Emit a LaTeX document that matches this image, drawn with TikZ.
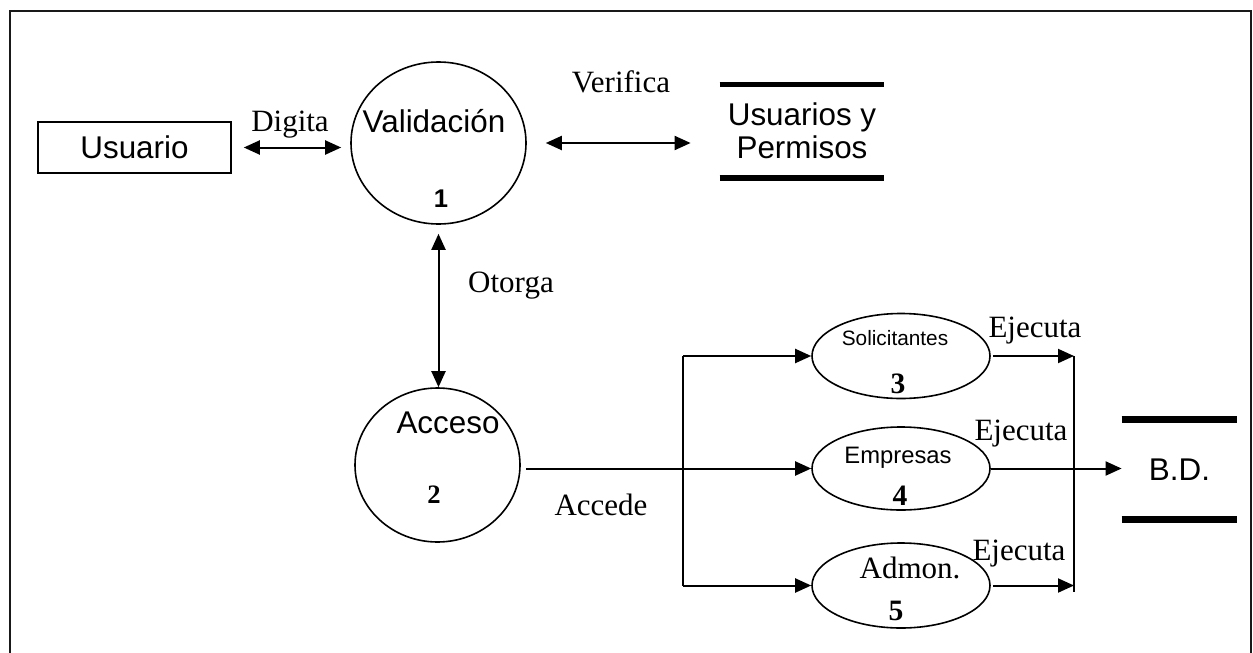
\documentclass[tikz,border=0pt]{standalone}
\usepackage{fontspec}
\setmainfont{Liberation Serif}
\setsansfont{Liberation Sans}
\usetikzlibrary{shapes.geometric,arrows.meta}
\colorlet{marco}{black!90}

\begin{document}
\begin{tikzpicture}[
            x=0.5pt, y=-0.5pt,
            every node/.append style={black, inner sep=0pt},
            proc/.style={draw, ellipse, line width=0.8pt},
            linea/.style={line width=1pt},
            flujo/.style={linea, -{Triangle[length=8pt,width=7pt]}},
            dflujo/.style={linea, {Triangle[length=8pt,width=7pt]}-{Triangle[length=8pt,width=7pt]}},
            almacen/.style={line width=2.6pt},
            etiq/.style={font=\rmfamily\fontsize{15.5}{18}\selectfont, anchor=base},
            txt/.style={font=\sffamily\fontsize{15.7}{16.5}\selectfont},
            numr/.style={font=\rmfamily\bfseries\fontsize{14.8}{16}\selectfont, anchor=base}
        ]
            \useasboundingbox (0,0) rectangle (1253,653);
            \clip (0,0) rectangle (1253,653);
            \draw [marco,line width=1pt] (9.5,10.5) rectangle (1250.5,700);

            \node [draw,line width=0.8pt,minimum width=96.5pt,minimum height=25.5pt,txt] (usuario) at (134.5,147.5) {Usuario};

            \node [proc,minimum width=87.5pt,minimum height=81pt] (valid) at (438.5,143) {};
            \node [txt,anchor=base] (t-valid) at (434,132) {Validación};
            \node [font=\sffamily\bfseries\fontsize{12.8}{14}\selectfont,anchor=base] (n1) at (441,207) {1};

            \node [txt,align=center,minimum width=82pt,minimum height=46.5pt] (usrperm) at (802,131) {Usuarios y\\Permisos};
            \draw [almacen] (usrperm.north west) -- (usrperm.north east);
            \draw [almacen] (usrperm.south west) -- (usrperm.south east);

            \node [proc,minimum width=82.5pt,minimum height=77pt] (acceso) at (437.5,465) {};
            \node [txt,anchor=base] (t-acceso) at (448,433) {Acceso};
            \node [numr,font=\rmfamily\bfseries\fontsize{13.3}{15}\selectfont] (n2) at (434,503) {2};

            \node [proc,minimum width=89pt,minimum height=42.5pt] (solic) at (901,356) {};
            \node [font=\sffamily\fontsize{10.4}{12}\selectfont,anchor=base] (t-solic) at (895,345) {Solicitantes};
            \node [numr] (n3) at (898,393) {3};

            \node [proc,minimum width=89pt,minimum height=41.5pt] (empre) at (901,468.5) {};
            \node [font=\sffamily\fontsize{11.9}{14}\selectfont,anchor=base] (t-empre) at (898,463) {Empresas};
            \node [numr] (n4) at (900,505) {4};

            \node [proc,minimum width=89pt,minimum height=42.5pt] (admon) at (901,585.5) {};
            \node [etiq] (t-admon) at (910,578) {Admon.};
            \node [numr] (n5) at (896,620) {5};

            \node [txt,minimum width=57.5pt,minimum height=49.5pt] (bd) at (1179.5,469.5) {B.D.};
            \draw [almacen,line width=3.4pt] (bd.north west) -- (bd.north east);
            \draw [almacen,line width=3.4pt] (bd.south west) -- (bd.south east);

            \node [etiq] (l-digita) at (290,131) {Digita};
            \node [etiq] (l-verifica) at (621,92) {Verifica};
            \node [etiq] (l-otorga) at (511,292) {Otorga};
            \node [etiq] (l-accede) at (601,515) {Accede};
            \node [etiq] (l-ejec1) at (1035,337) {Ejecuta};
            \node [etiq] (l-ejec2) at (1021,440) {Ejecuta};
            \node [etiq] (l-ejec3) at (1019,560) {Ejecuta};

            \coordinate (fork) at (683,468.5);
            \coordinate (colector) at (1074,469);

            \draw [dflujo,shorten <=6pt,shorten >=4.5pt] (usuario.east) -- (usuario.east -| valid.west);
            \draw [dflujo,shorten <=9.5pt,shorten >=14.5pt] (valid.east) -- (valid.east -| usrperm.west);
            \draw [dflujo,shorten <=4.5pt] (valid.south) -- (valid.south |- acceso.north);
            \draw [flujo,shorten <=2.5pt] (acceso.east |- empre.west) -- (empre.west);
            \draw [linea] (fork |- solic.west)
                -- (fork |- admon.west)
            ;
            \draw [flujo] (fork |- solic.west) -- (solic.west);
            \draw [flujo] (fork |- admon.west) -- (admon.west);
            \draw [flujo,shorten <=1pt] (solic.east) -- (solic.east -| colector);
            \draw [flujo,shorten <=1pt] (admon.east) -- (admon.east -| colector);
            \draw [linea] (colector |- solic.east)
                -- ([yshift=-3pt]colector |- admon.east)
            ;
            \draw [flujo] (empre.east) -- (empre.east -| bd.west);
        \end{tikzpicture}
\end{document}
